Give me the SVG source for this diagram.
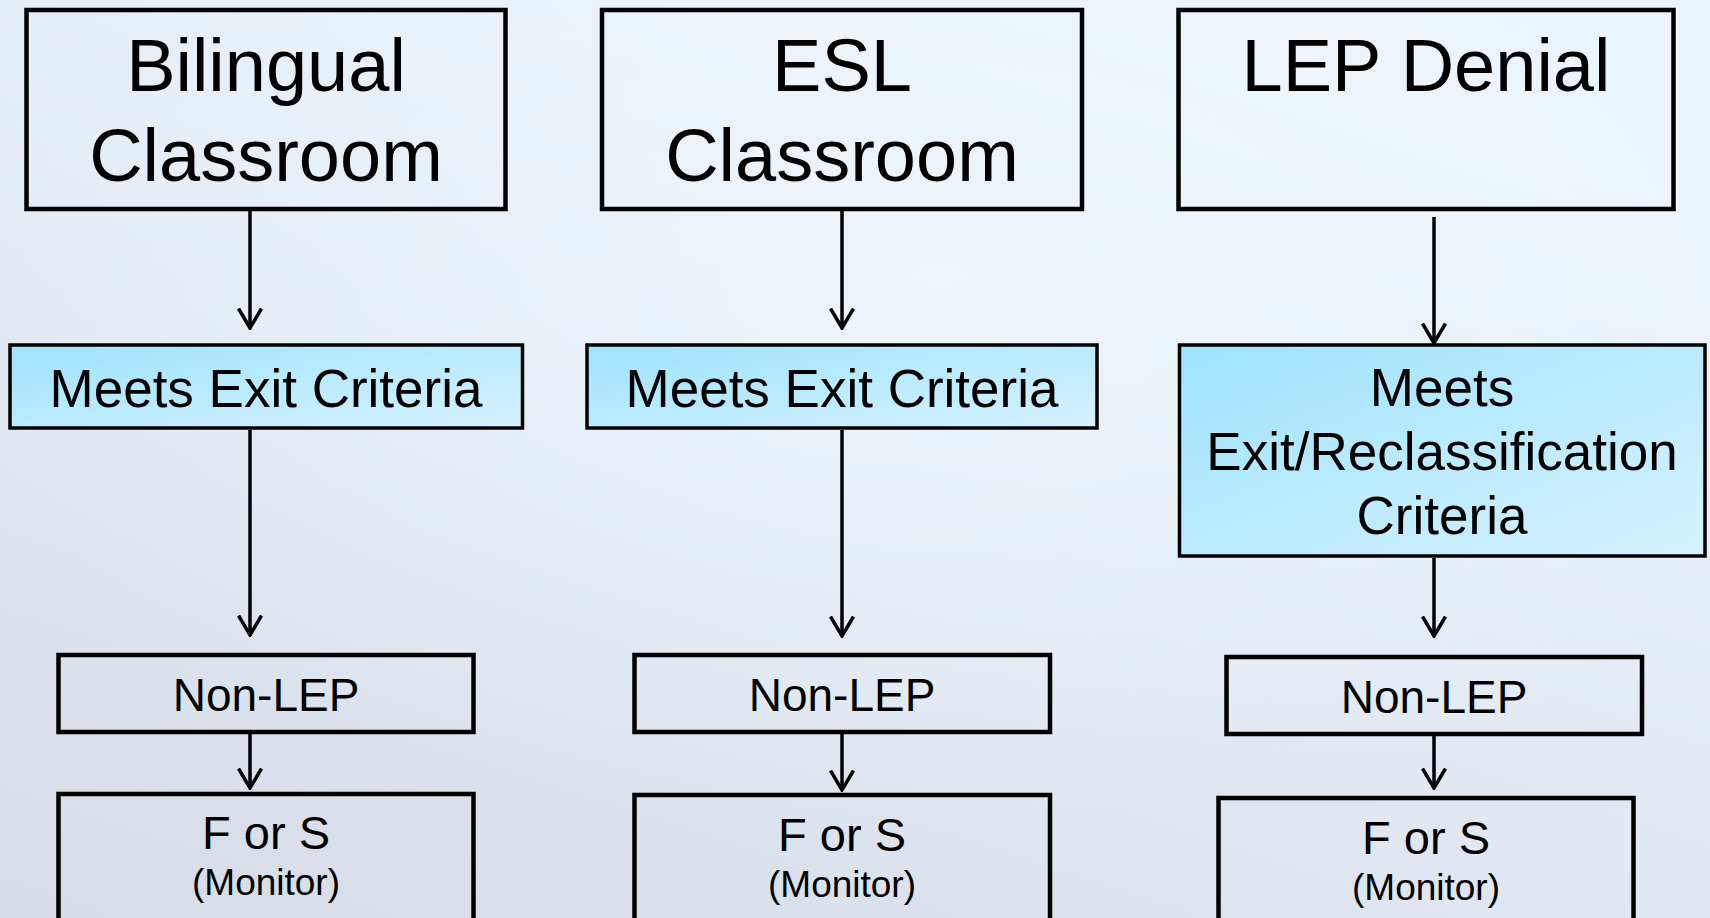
<svg xmlns="http://www.w3.org/2000/svg" width="1710" height="918" viewBox="0 0 1710 918">
  <defs>
    <linearGradient id="bg" x1="0" y1="1" x2="0.6" y2="0">
      <stop offset="0" stop-color="#d6dbe6"/>
      <stop offset="0.5" stop-color="#e2e9f2"/>
      <stop offset="1" stop-color="#ebf4fa"/>
    </linearGradient>
    <radialGradient id="bg2" cx="0.55" cy="0.3" r="0.6">
      <stop offset="0" stop-color="#eef6fb" stop-opacity="0.8"/>
      <stop offset="1" stop-color="#eef6fb" stop-opacity="0"/>
    </radialGradient>
    <linearGradient id="blue" x1="0" y1="0" x2="1" y2="1">
      <stop offset="0" stop-color="#9ee3fd"/>
      <stop offset="1" stop-color="#d6f2fe"/>
    </linearGradient>
    <marker id="arr" viewBox="0 0 22 26" refX="20.5" refY="13" markerWidth="22" markerHeight="26" markerUnits="userSpaceOnUse" orient="auto">
      <path d="M1,1.5 L20.5,13 L1,24.5" fill="none" stroke="#000" stroke-width="3.5"/>
    </marker>
    <style>
      .box{fill:none;stroke:#000;stroke-width:4.5}
      .bbox{fill:url(#blue);stroke:#000;stroke-width:3.5}
      .t{font-family:"Liberation Sans",Arial,sans-serif;fill:#000;text-anchor:middle}
      .big{font-size:74px}
      .mid{font-size:53px}
      .sm{font-size:46px}
      .fs{font-size:47px}
      .mon{font-size:37px}
      .con{stroke:#000;stroke-width:3.5;fill:none}
    </style>
  </defs>
  <rect width="1710" height="918" fill="url(#bg)"/>
  <rect width="1710" height="918" fill="url(#bg2)"/>

  <g id="connectors">
    <line class="con" x1="250" y1="211" x2="250" y2="328" marker-end="url(#arr)"/>
    <line class="con" x1="842" y1="211" x2="842" y2="328" marker-end="url(#arr)"/>
    <line class="con" x1="1434" y1="217" x2="1434" y2="343" marker-end="url(#arr)"/>
    <line class="con" x1="250" y1="430" x2="250" y2="635" marker-end="url(#arr)"/>
    <line class="con" x1="842" y1="430" x2="842" y2="636" marker-end="url(#arr)"/>
    <line class="con" x1="1434" y1="558" x2="1434" y2="636" marker-end="url(#arr)"/>
    <line class="con" x1="250" y1="734" x2="250" y2="788" marker-end="url(#arr)"/>
    <line class="con" x1="842" y1="734" x2="842" y2="790" marker-end="url(#arr)"/>
    <line class="con" x1="1434" y1="736" x2="1434" y2="788" marker-end="url(#arr)"/>
  </g>

  <g id="bilingual">
    <rect class="box" x="26.5" y="10" width="479" height="199"/>
    <text class="t big" x="266" y="91">Bilingual</text>
    <text class="t big" x="266" y="181">Classroom</text>
  </g>
  <g id="esl">
    <rect class="box" x="602" y="10" width="480" height="199"/>
    <text class="t big" x="842" y="91">ESL</text>
    <text class="t big" x="842" y="181">Classroom</text>
  </g>
  <g id="lep-denial">
    <rect class="box" x="1178.5" y="10" width="495" height="199"/>
    <text class="t big" x="1426" y="91">LEP Denial</text>
  </g>

  <g id="exit1">
    <rect class="bbox" x="10" y="345" width="512.5" height="83"/>
    <text class="t mid" x="266" y="407">Meets Exit Criteria</text>
  </g>
  <g id="exit2">
    <rect class="bbox" x="587" y="345" width="510" height="83"/>
    <text class="t mid" x="842" y="407">Meets Exit Criteria</text>
  </g>
  <g id="exit3">
    <rect class="bbox" x="1179.5" y="345" width="525.5" height="211"/>
    <text class="t mid" x="1442" y="406">Meets</text>
    <text class="t mid" x="1442" y="470">Exit/Reclassification</text>
    <text class="t mid" x="1442" y="534">Criteria</text>
  </g>

  <g id="nonlep1">
    <rect class="box" x="58.5" y="655" width="415" height="77"/>
    <text class="t sm" x="266" y="711">Non-LEP</text>
  </g>
  <g id="nonlep2">
    <rect class="box" x="634.5" y="655" width="415.5" height="77"/>
    <text class="t sm" x="842" y="711">Non-LEP</text>
  </g>
  <g id="nonlep3">
    <rect class="box" x="1226.5" y="657" width="415.5" height="77"/>
    <text class="t sm" x="1434" y="713">Non-LEP</text>
  </g>

  <g id="fors1">
    <rect class="box" x="58.5" y="794" width="415" height="140"/>
    <text class="t fs" x="266" y="849">F or S</text>
    <text class="t mon" x="266" y="895">(Monitor)</text>
  </g>
  <g id="fors2">
    <rect class="box" x="634.5" y="795" width="415.5" height="140"/>
    <text class="t fs" x="842" y="851">F or S</text>
    <text class="t mon" x="842" y="897">(Monitor)</text>
  </g>
  <g id="fors3">
    <rect class="box" x="1218.5" y="798" width="415" height="140"/>
    <text class="t fs" x="1426" y="854">F or S</text>
    <text class="t mon" x="1426" y="900">(Monitor)</text>
  </g>
</svg>
